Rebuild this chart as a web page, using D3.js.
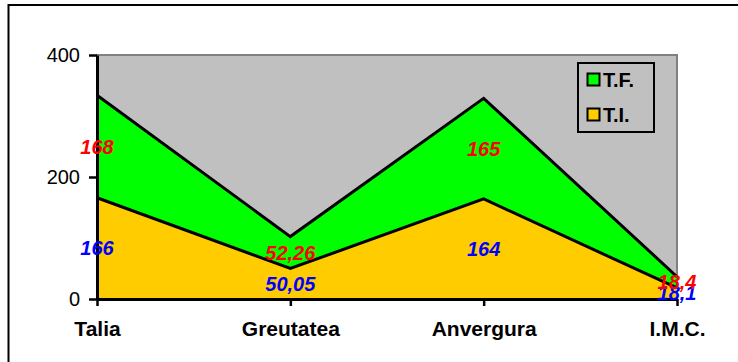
<!DOCTYPE html>
<html>
<head>
<meta charset="utf-8">
<script src="https://cdn.jsdelivr.net/npm/d3@7"></script>
<style>
  html, body { margin: 0; padding: 0; background: #fff; overflow: hidden; }
  svg { display: block; font-family: "Liberation Sans", Arial, sans-serif; }
</style>
</head>
<body>
<svg id="chart" width="738" height="362"></svg>
<script>
// Categories and series values
const categories = ["Talia", "Greutatea", "Anvergura", "I.M.C."];
const seriesNames = ["T.I.", "T.F."];
const valuesTI = [166, 50.05, 164, 18.1];
const valuesTF = [168, 52.26, 165, 18.4];
const labelsTI = ["166", "50,05", "164", "18,1"];
const labelsTF = ["168", "52,26", "165", "18,4"];
const yTicks = [0, 200, 400];

const colors = { "T.I.": "#FFCC00", "T.F.": "#00FF00" };
const labelColors = { "T.I.": "#0000FF", "T.F.": "#FF0000" };

const svg = d3.select("#chart");
const W = 738, H = 362;
const m = { left: 97, right: 61, top: 55, bottom: 63 };
const pw = W - m.left - m.right, ph = H - m.top - m.bottom;

// Outer frame (runs off the right and bottom edges)
svg.append("rect").attr("x", 8.5).attr("y", 5).attr("width", 800).attr("height", 400)
  .attr("fill", "#fff").attr("stroke", "#000").attr("stroke-width", 2);

const g = svg.append("g").attr("transform", `translate(${m.left},${m.top})`);

const x = d3.scalePoint().domain(categories).range([0, pw]).padding(0);
const y = d3.scaleLinear().domain([0, 400]).range([ph, 0]);

// Plot background
g.append("rect").attr("x", 0).attr("y", 0).attr("width", pw).attr("height", ph)
  .attr("fill", "#C0C0C0").attr("stroke", "#808080").attr("stroke-width", 2);

// Stack data
const table = categories.map((c, i) => ({ cat: c, "T.I.": valuesTI[i], "T.F.": valuesTF[i] }));
const stack = d3.stack().keys(seriesNames)(table);
const labelText = { "T.I.": labelsTI, "T.F.": labelsTF };

const area = d3.area().x(d => x(d.data.cat)).y0(d => y(d[0])).y1(d => y(d[1]));
const line = d3.line().x(d => x(d.data.cat)).y(d => y(d[1]));

stack.forEach(s => {
  g.append("path").attr("d", area(s)).attr("fill", colors[s.key]);
});
stack.forEach(s => {
  g.append("path").attr("d", line(s)).attr("fill", "none")
    .attr("stroke", "#000").attr("stroke-width", 3).attr("stroke-linejoin", "miter");
});

// Axes
const yAxis = d3.axisLeft(y).tickValues(yTicks).tickSize(8).tickSizeOuter(0).tickPadding(9);
const ya = g.append("g").call(yAxis);
ya.select(".domain").attr("stroke", "#000").attr("stroke-width", 3);
ya.selectAll(".tick line").attr("stroke", "#000").attr("stroke-width", 2.5);
ya.selectAll(".tick text").attr("font-size", 20).attr("fill", "#000")
  .attr("font-family", "Liberation Sans, Arial, sans-serif");

const xAxis = d3.axisBottom(x).tickSize(7).tickSizeOuter(0).tickPadding(15);
const xa = g.append("g").attr("transform", `translate(0,${ph})`).call(xAxis);
xa.select(".domain").attr("stroke", "#000").attr("stroke-width", 3);
xa.selectAll(".tick line").attr("stroke", "#000").attr("stroke-width", 2.5);
xa.selectAll(".tick text").attr("font-size", 21).attr("font-weight", "bold").attr("fill", "#000")
  .attr("font-family", "Liberation Sans, Arial, sans-serif");

// Value labels at the middle of each band
stack.forEach(s => {
  g.append("g").selectAll("text").data(s).join("text")
    .attr("x", d => x(d.data.cat))
    .attr("y", d => y((d[0] + d[1]) / 2))
    .attr("dy", "0.35em")
    .attr("text-anchor", "middle")
    .attr("font-size", 20).attr("font-weight", "bold").attr("font-style", "italic")
    .attr("fill", labelColors[s.key])
    .text((d, i) => labelText[s.key][i]);
});

// Legend
const lg = svg.append("g").attr("transform", "translate(578,63)");
lg.append("rect").attr("x", 0).attr("y", 0).attr("width", 76).attr("height", 69)
  .attr("fill", "#C0C0C0").attr("stroke", "#000").attr("stroke-width", 2);
["T.F.", "T.I."].forEach((k, i) => {
  const yy = 10.5 + i * 35;
  lg.append("rect").attr("x", 9.5).attr("y", yy).attr("width", 12).attr("height", 12)
    .attr("fill", colors[k]).attr("stroke", "#000").attr("stroke-width", 2);
  lg.append("text").attr("x", 25).attr("y", yy + 6).attr("dy", "0.36em")
    .attr("font-size", 20).attr("font-weight", "bold").attr("fill", "#000").text(k);
});
</script>
</body>
</html>
